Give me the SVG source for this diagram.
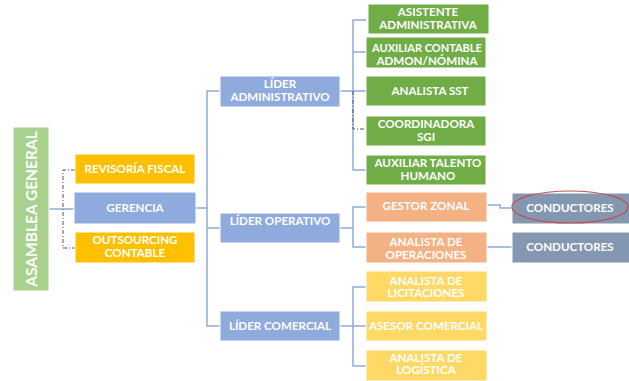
<svg xmlns="http://www.w3.org/2000/svg" width="629" height="381" viewBox="0 0 629 381">
<style>
.t{font-family:Lato,"Liberation Sans",sans-serif;font-weight:bold;font-size:11.6px;fill:#fff;text-anchor:middle}
.b{stroke:#fff;stroke-width:1}
.green{fill:#70AD47}
.orange{fill:#F4B183}
.yellow{fill:#FFD966}
.amber{fill:#FFC000}
.blue{fill:#8FAADC}
.slate{fill:#8497B0}
.ln{fill:none;stroke:#8FAADC;stroke-width:1.5}
.dash{fill:none;stroke:#555;stroke-width:1;stroke-dasharray:4 2 1 2}
</style>
<rect width="629" height="381" fill="#fff"/>
<g id="connectors">
<path class="ln" d="M49 209H74"/>
<path class="dash" d="M75 170H63V248H75"/>
<path class="ln" d="M196 208H207M220 91H207V326H220M207 228H220"/>
<path class="ln" d="M340 91H353M366 20H353V170H366M353 52H366M353 91H366"/>
<path class="dash" d="M353 91V129H366"/>
<path class="ln" d="M340 228H353M366 207H353V247H366"/>
<path class="ln" d="M340 326H353M366 287H353V366H366M353 326H366"/>
<path class="ln" d="M487 205H500V208H512M487 247H512"/>
</g>
<g id="asamblea"><rect class="b" x="13" y="127" width="36" height="164" fill="#A9D18E"/><text class="t" transform="translate(37 209) rotate(-90)" style="font-size:15.5px">ASAMBLEA GENERAL</text></g>
<g id="revisoria"><rect class="amber b" x="75" y="154" width="120" height="30"/><text class="t" x="135" y="173">REVISORÍA FISCAL</text></g>
<g id="gerencia"><rect class="blue b" x="74" y="192" width="122" height="32"/><text class="t" x="135" y="212">GERENCIA</text></g>
<g id="outsourcing"><rect class="amber b" x="75" y="232" width="120" height="31"/><text class="t" x="135" y="244">OUTSOURCING</text><text class="t" x="135" y="257">CONTABLE</text></g>
<g id="lider-admin"><rect class="blue b" x="220" y="76" width="120" height="31"/><text class="t" x="280" y="88">LÍDER</text><text class="t" x="280" y="101">ADMINISTRATIVO</text></g>
<g id="lider-oper"><rect class="blue b" x="220" y="213" width="120" height="30"/><text class="t" x="280" y="225">LÍDER OPERATIVO</text></g>
<g id="lider-com"><rect class="blue b" x="220" y="311" width="120" height="30"/><text class="t" x="280" y="330">LÍDER COMERCIAL</text></g>
<g id="asistente"><rect class="green b" x="368" y="4" width="121" height="30"/><text class="t" x="428" y="16">ASISTENTE</text><text class="t" x="428" y="29">ADMINISTRATIVA</text></g>
<g id="aux-contable"><rect class="green b" x="366" y="37" width="120" height="31"/><text class="t" x="427" y="52" style="font-size:11px">AUXILIAR CONTABLE</text><text class="t" x="427" y="65">ADMON/NÓMINA</text></g>
<g id="analista-sst"><rect class="green b" x="366" y="76" width="120" height="30"/><text class="t" x="430" y="95">ANALISTA SST</text></g>
<g id="coordinadora"><rect class="green b" x="366" y="116" width="120" height="30"/><text class="t" x="426" y="128">COORDINADORA</text><text class="t" x="426" y="141">SGI</text></g>
<g id="aux-talento"><rect class="green b" x="366" y="155" width="120" height="30"/><text class="t" x="428" y="167">AUXILIAR TALENTO</text><text class="t" x="428" y="180">HUMANO</text></g>
<g id="gestor-zonal"><rect class="orange b" x="366" y="192" width="121" height="30"/><text class="t" x="426" y="210">GESTOR ZONAL</text></g>
<g id="analista-oper"><rect class="orange b" x="366" y="232" width="121" height="31"/><text class="t" x="426" y="246">ANALISTA DE</text><text class="t" x="426" y="259">OPERACIONES</text></g>
<g id="conductores-1"><rect class="slate b" x="512" y="193" width="118" height="31"/><text class="t" x="570" y="212">CONDUCTORES</text><ellipse cx="570" cy="207" rx="58" ry="16" fill="none" stroke="#C0504D" stroke-width="1.2"/></g>
<g id="conductores-2"><rect class="slate b" x="512" y="232" width="118" height="31"/><text class="t" x="570" y="251">CONDUCTORES</text></g>
<g id="analista-lic"><rect class="yellow b" x="366" y="271" width="121" height="31"/><text class="t" x="426" y="285">ANALISTA DE</text><text class="t" x="426" y="297">LICITACIONES</text></g>
<g id="asesor"><rect class="yellow b" x="366" y="311" width="121" height="30"/><text class="t" x="426" y="330">ASESOR COMERCIAL</text></g>
<g id="analista-log"><rect class="yellow b" x="366" y="350" width="121" height="31"/><text class="t" x="426" y="362">ANALISTA DE</text><text class="t" x="426" y="374">LOGÍSTICA</text></g>
</svg>
